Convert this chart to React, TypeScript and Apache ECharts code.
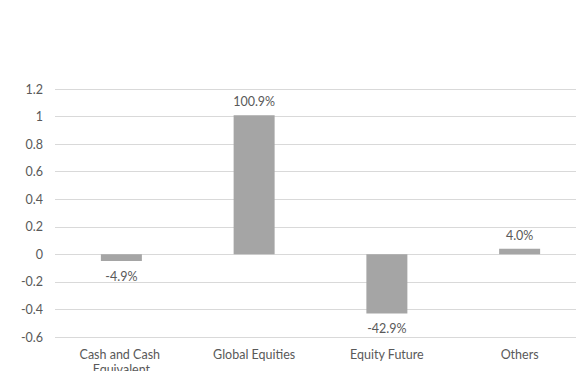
import React, { useEffect, useRef } from "react";
import * as echarts from "echarts";

const categories = ["Cash and Cash Equivalent", "Global Equities", "Equity Future", "Others"];
const values = [-0.049, 1.009, -0.429, 0.04];
const yTicks = { min: -0.6, max: 1.2, interval: 0.2 };

const FONT = "Lato, 'Open Sans', sans-serif";
const FS = 12.5;

export default function App() {
  const ref = useRef<HTMLDivElement>(null);
  useEffect(() => {
    if (!ref.current) return;
    const chart = echarts.init(ref.current, undefined, { renderer: "svg" });
    chart.setOption({
      animation: false,
      backgroundColor: "#ffffff",
      grid: {
        left: 55,
        top: 89,
        width: 531,
        height: 248,
        containLabel: false,
        outerBoundsMode: "none",
      },
      xAxis: {
        type: "category",
        data: categories,
        axisLine: { show: false },
        axisTick: { show: false },
        axisLabel: {
          color: "#595959",
          fontFamily: FONT,
          fontSize: FS,
          margin: 10,
          lineHeight: 15,
          width: 110,
          overflow: "break",
          interval: 0,
        },
      },
      yAxis: {
        type: "value",
        min: yTicks.min,
        max: yTicks.max,
        interval: yTicks.interval,
        axisLine: { show: false },
        axisTick: { show: false },
        splitLine: { lineStyle: { color: "#d9d9d9", width: 1 } },
        axisLabel: {
          color: "#595959",
          fontFamily: FONT,
          fontSize: FS,
          margin: 12,
          formatter: (v: number) => String(Math.round(v * 10) / 10),
        },
      },
      series: [
        {
          type: "bar",
          barWidth: 41,
          itemStyle: { color: "#a5a5a5" },
          data: values.map((v) => ({
            value: v,
            label: { position: v < 0 ? "bottom" : "top", distance: v < 0 ? 9 : 7 },
          })),
          label: {
            show: true,
            color: "#595959",
            fontFamily: FONT,
            fontSize: FS,
            formatter: (p: any) => (p.value * 100).toFixed(1) + "%",
          },
        },
      ],
    });
    return () => chart.dispose();
  }, []);
  return (
    <div
      ref={ref}
      style={{ position: "fixed", left: 0, top: 0, width: 576, height: 371 }}
    />
  );
}
